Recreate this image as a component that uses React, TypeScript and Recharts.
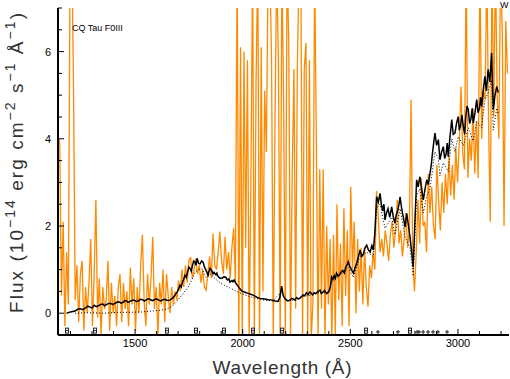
import { ComposedChart, Line, Scatter, XAxis, YAxis } from 'recharts';

// tick positions (minor every 100 A / 0.5 flux units, labels on the major ones)
const waveTicks = [1200, 1300, 1400, 1500, 1600, 1700, 1800, 1900, 2000, 2100, 2200, 2300, 2400, 2500, 2600, 2700, 2800, 2900, 3000, 3100, 3200];
const waveLabels = [1500, 2000, 2500, 3000];
const fluxTicks = [-0.5, 0, 0.5, 1, 1.5, 2, 2.5, 3, 3.5, 4, 4.5, 5, 5.5, 6, 6.5, 7];
const fluxLabels = [0, 2, 4, 6];

// IUE spectrum, orange (wavelength A, flux 1e-14)
const iue: [number, number][] = [
  [1146, 4.0], [1150, 3.9], [1158, 0.4], [1166, 2.1], [1174, -0.3], [1182, 1.4], [1190, 0.2], [1198, 8], [1206, 8.5], [1214, 5.2],
  [1222, 0.3], [1230, 1.1], [1238, -0.2], [1246, 0.9], [1254, 1.2], [1262, -0.4], [1270, 0.6], [1278, 0.0], [1286, 0.7], [1294, 1.7],
  [1302, -0.3], [1310, 0.9], [1318, 2.6], [1326, -0.1], [1334, 0.8], [1342, -0.5], [1350, 0.6], [1358, 0.1], [1366, 0.3], [1374, 1.2],
  [1382, -0.4], [1390, 0.7], [1398, 0.0], [1406, 0.4], [1414, -0.3], [1422, 0.6], [1430, 0.9], [1438, -0.2], [1446, 0.7], [1454, 0.1],
  [1462, 0.5], [1470, -0.3], [1478, 1.05], [1486, 0.2], [1494, 0.8], [1502, -0.4], [1510, 0.6], [1518, 0.0], [1526, 1.1], [1534, 1.8],
  [1542, 0.3], [1550, -0.3], [1558, 0.9], [1566, 0.2], [1574, 0.8], [1582, 1.75], [1590, 0.1], [1598, 0.6], [1606, -0.5], [1614, 0.7],
  [1622, 0.2], [1630, 1.0], [1638, -0.2], [1646, 0.9], [1654, 0.4], [1662, 0.0], [1670, 0.6], [1678, 0.2], [1686, 0.5], [1694, 0.3],
  [1702, 0.75], [1710, 0.5], [1718, 1.0], [1726, 0.6], [1734, 1.1], [1742, 0.7], [1750, 1.2], [1758, 1.29], [1766, 0.8], [1774, 1.0],
  [1782, 1.26], [1790, 0.9], [1798, 1.1], [1806, 0.7], [1814, 1.0], [1822, 0.6], [1830, 0.53], [1838, 0.9], [1846, 1.3], [1854, 0.8],
  [1862, 1.83], [1870, 1.1], [1878, 1.0], [1886, 1.4], [1894, 1.87], [1902, 1.2], [1910, 0.9], [1918, 1.75], [1926, 1.0], [1934, 1.4],
  [1942, 0.8], [1950, 1.52], [1958, 1.95], [1966, 0.7], [1974, 8], [1982, -0.6], [1990, 6.1], [1998, -0.6], [2006, 6.0], [2014, 1.5],
  [2022, 5.8], [2030, -0.6], [2038, 3.0], [2046, 8], [2054, -0.6], [2062, 5.3], [2070, 8], [2078, -0.6], [2086, 6.1], [2094, 0.5],
  [2102, 5.1], [2110, 3.7], [2118, 8], [2126, 8], [2134, 5.8], [2142, -0.6], [2150, 4.4], [2158, 8], [2166, 5.7], [2174, -0.6],
  [2182, 8], [2190, 4.9], [2198, -0.6], [2206, 8], [2214, 6.2], [2222, -0.6], [2230, 3.2], [2238, 5.6], [2246, 0.1], [2254, 5.7],
  [2262, 8], [2270, 8], [2278, -0.6], [2286, 5.6], [2294, 6.2], [2302, -0.5], [2310, 5.8], [2318, -0.6], [2326, 0.2], [2334, 8],
  [2342, 4.0], [2350, -0.6], [2358, 3.3], [2366, 0.1], [2374, 3.3], [2382, -0.6], [2390, 2.0], [2398, 0.2], [2406, 1.7], [2414, -0.6],
  [2422, 1.8], [2430, -0.5], [2438, 2.5], [2446, 0.3], [2454, 1.6], [2462, -0.3], [2470, 2.4], [2478, 0.4], [2486, 1.9], [2494, -0.3],
  [2502, 2.9], [2510, 1.0], [2518, 2.1], [2526, 0.0], [2534, 1.7], [2542, 0.5], [2550, 1.5], [2558, 0.2], [2566, 1.5], [2574, 0.6],
  [2582, 0.15], [2590, 1.1], [2598, 0.8], [2606, 1.4], [2614, 1.0], [2622, 2.8], [2630, 2.2], [2638, 1.4], [2646, 1.7], [2654, 1.3],
  [2662, 1.9], [2670, 1.6], [2678, 1.2], [2686, 1.8], [2694, 2.1], [2702, 1.5], [2710, 1.9], [2718, 2.6], [2726, 1.6], [2734, 1.9],
  [2742, 1.3], [2750, 1.7], [2758, 2.3], [2766, 1.5], [2774, 1.9], [2782, 4.9], [2790, 1.2], [2798, 0.5], [2806, 1.4], [2814, 2.6],
  [2822, 1.6], [2830, 3.1], [2838, 2.0], [2846, 2.1], [2854, 1.4], [2862, 3.2], [2870, 2.3], [2878, 2.9], [2886, 2.0], [2894, 1.7],
  [2902, 3.4], [2910, 2.6], [2918, 1.9], [2926, 3.0], [2934, 2.3], [2942, 3.2], [2950, 2.5], [2958, 3.6], [2966, 2.7], [2974, 3.4],
  [2982, 2.6], [2990, 3.8], [2998, 3.0], [3006, 3.9], [3014, 5.2], [3022, 3.7], [3030, 3.3], [3038, 8], [3046, 3.1], [3054, 4.0],
  [3062, 3.5], [3070, 4.7], [3078, 3.2], [3086, 4.4], [3094, 3.1], [3102, 8], [3110, 4.0], [3118, 5.1], [3126, 4.9], [3134, 8],
  [3142, 4.4], [3150, 2.1], [3158, 8], [3166, 4.5], [3174, 8], [3182, 5.0], [3190, 4.0], [3198, 8], [3206, 6.4], [3214, 2.0],
  [3222, 6.7], [3230, 5.5],
];

// smoothed spectrum, black solid
const smooth: [number, number][] = [
  [1182, 0.0], [1200, 0.03], [1221, 0.05], [1233, 0.09], [1245, 0.1], [1258, 0.08], [1270, 0.12], [1280, 0.16], [1291, 0.14], [1300, 0.12],
  [1310, 0.18], [1320, 0.15], [1330, 0.17], [1340, 0.2], [1350, 0.21], [1358, 0.17], [1365, 0.19], [1375, 0.22], [1384, 0.23], [1395, 0.2],
  [1405, 0.22], [1415, 0.25], [1425, 0.26], [1435, 0.23], [1445, 0.25], [1452, 0.29], [1460, 0.28], [1468, 0.25], [1476, 0.27], [1485, 0.29],
  [1495, 0.3], [1505, 0.27], [1515, 0.28], [1525, 0.32], [1535, 0.31], [1543, 0.28], [1550, 0.3], [1560, 0.33], [1569, 0.32], [1580, 0.29],
  [1590, 0.31], [1600, 0.33], [1610, 0.3], [1620, 0.28], [1630, 0.31], [1640, 0.32], [1650, 0.29], [1662, 0.3], [1675, 0.35], [1685, 0.41],
  [1697, 0.5], [1709, 0.64], [1715, 0.6], [1720, 0.72], [1726, 0.78], [1732, 0.87], [1738, 0.82], [1744, 0.95], [1750, 1.06], [1755, 1.03],
  [1761, 0.96], [1766, 1.08], [1772, 1.2], [1778, 1.17], [1783, 1.1], [1788, 1.26], [1795, 1.14], [1802, 1.13], [1809, 1.2], [1816, 1.17],
  [1823, 1.05], [1829, 0.99], [1834, 0.93], [1839, 0.87], [1843, 0.95], [1848, 1.03], [1853, 1.0], [1857, 0.97], [1862, 0.9], [1867, 0.94],
  [1876, 0.88], [1880, 0.92], [1885, 0.85], [1890, 0.82], [1895, 0.8], [1904, 0.8], [1913, 0.84], [1922, 0.82], [1926, 0.78], [1931, 0.76],
  [1936, 0.79], [1941, 0.71], [1950, 0.75], [1955, 0.72], [1960, 0.76], [1969, 0.68], [1978, 0.62], [1985, 0.57], [1992, 0.53], [2000, 0.5],
  [2011, 0.48], [2022, 0.46], [2034, 0.44], [2045, 0.42], [2057, 0.39], [2068, 0.36], [2080, 0.34], [2094, 0.33], [2108, 0.32], [2120, 0.31],
  [2136, 0.3], [2150, 0.28], [2164, 0.27], [2172, 0.35], [2181, 0.62], [2188, 0.4], [2200, 0.31], [2210, 0.28], [2220, 0.3], [2228, 0.34],
  [2235, 0.33], [2243, 0.3], [2250, 0.36], [2258, 0.33], [2265, 0.34], [2273, 0.38], [2281, 0.42], [2288, 0.4], [2296, 0.47], [2304, 0.43],
  [2312, 0.49], [2318, 0.46], [2325, 0.42], [2332, 0.47], [2340, 0.45], [2350, 0.5], [2359, 0.53], [2365, 0.45], [2372, 0.48], [2380, 0.52],
  [2390, 0.45], [2400, 0.5], [2407, 0.6], [2413, 0.83], [2419, 0.78], [2425, 0.86], [2430, 0.8], [2436, 0.92], [2443, 0.85], [2450, 0.88],
  [2458, 0.95], [2465, 0.98], [2472, 0.92], [2478, 1.05], [2484, 1.1], [2490, 1.18], [2495, 1.1], [2500, 1.05], [2507, 0.98], [2514, 0.92],
  [2522, 1.05], [2530, 1.15], [2538, 1.3], [2545, 1.45], [2553, 1.3], [2560, 1.35], [2568, 1.5], [2576, 1.56], [2584, 1.45], [2592, 1.4],
  [2600, 1.55], [2607, 1.45], [2614, 1.85], [2622, 2.67], [2630, 2.55], [2638, 2.75], [2644, 2.5], [2650, 2.35], [2656, 2.5], [2661, 2.14],
  [2668, 2.3], [2675, 2.4], [2683, 2.2], [2692, 2.44], [2700, 2.2], [2707, 2.06], [2713, 2.25], [2720, 2.35], [2726, 2.5], [2731, 2.67],
  [2737, 2.45], [2742, 2.3], [2748, 2.15], [2754, 1.98], [2762, 2.29], [2770, 2.0], [2777, 1.75], [2785, 1.4], [2792, 1.06], [2800, 2.1],
  [2808, 3.06], [2815, 2.9], [2823, 3.13], [2831, 2.85], [2839, 2.6], [2847, 2.85], [2855, 3.06], [2862, 2.95], [2870, 3.21], [2876, 3.4],
  [2880, 3.6], [2887, 3.9], [2893, 4.13], [2901, 3.85], [2909, 3.98], [2916, 3.52], [2924, 3.7], [2932, 3.82], [2938, 3.55], [2945, 3.65],
  [2950, 3.9], [2955, 3.59], [2962, 4.0], [2971, 4.44], [2978, 4.1], [2986, 4.13], [2993, 4.35], [3001, 4.51], [3006, 4.2], [3012, 4.3],
  [3018, 4.55], [3025, 4.28], [3031, 4.1], [3036, 4.5], [3042, 4.75], [3048, 4.67], [3054, 4.35], [3060, 4.45], [3066, 4.7], [3071, 4.36],
  [3079, 4.6], [3087, 4.9], [3093, 4.6], [3100, 4.7], [3105, 4.95], [3110, 4.74], [3117, 5.1], [3125, 5.43], [3132, 5.1], [3140, 5.59],
  [3148, 5.3], [3156, 5.97], [3164, 4.67], [3172, 5.0], [3180, 5.2], [3187, 5.06],
];

// model, black dotted
const model: [number, number][] = [
  [1221, 0.0], [1280, 0.01], [1360, 0.0], [1420, 0.02], [1480, 0.02], [1531, 0.03], [1580, 0.05], [1624, 0.07], [1650, 0.1], [1670, 0.15],
  [1690, 0.25], [1717, 0.41], [1747, 0.6], [1763, 0.76], [1780, 0.95], [1795, 1.0], [1810, 1.02], [1830, 0.82], [1848, 0.9], [1870, 0.8],
  [1900, 0.68], [1940, 0.58], [1980, 0.48], [2020, 0.4], [2060, 0.34], [2100, 0.3], [2140, 0.28], [2181, 0.5], [2200, 0.3], [2240, 0.3],
  [2280, 0.38], [2320, 0.42], [2360, 0.48], [2400, 0.45], [2413, 0.72], [2440, 0.82], [2490, 1.05], [2514, 0.82], [2545, 1.3], [2576, 1.4],
  [2607, 1.3], [2622, 2.4], [2638, 2.5], [2661, 1.95], [2692, 2.2], [2707, 1.8], [2731, 2.4], [2754, 1.75], [2777, 1.5], [2792, 0.85],
  [2808, 2.7], [2823, 2.85], [2839, 2.3], [2855, 2.7], [2870, 2.85], [2893, 3.7], [2909, 3.55], [2916, 3.15], [2932, 3.45], [2955, 3.25],
  [2971, 4.0], [2986, 3.7], [3001, 4.05], [3025, 3.85], [3048, 4.25], [3071, 3.95], [3087, 4.4], [3110, 4.25], [3125, 4.9], [3140, 5.05],
  [3156, 5.35], [3164, 4.2], [3180, 4.7], [3187, 4.55],
];

// quality flags along the bottom
const flagBoxes = [1184, 1314, 1648, 1783, 1913, 2048, 2183, 2573, 2777];
const flagPlus = [2628, 2721, 2810, 2819, 2838, 2861, 2884, 2907, 2949];

const rows = (pts: [number, number][]) => pts.map(([w, f]) => ({ w, f }));

const FONT = '"Liberation Sans", Arial, Helvetica, sans-serif';

function BottomTick({ x, y, payload }: any) {
  const major = waveLabels.includes(payload.value);
  return (
    <g>
      <line x1={x} x2={x} y1={y} y2={y - (major ? 6 : 4)} stroke="#000" />
      {major && (
        <text x={x} y={y + 12} textAnchor="middle" fontSize={11} fontFamily={FONT} fill="#000">
          {payload.value}
        </text>
      )}
    </g>
  );
}

function TopTick({ x, y, payload }: any) {
  const major = waveLabels.includes(payload.value);
  return <line x1={x} x2={x} y1={y} y2={y + (major ? 6 : 4)} stroke="#000" />;
}

function LeftTick({ x, y, payload }: any) {
  const major = fluxLabels.includes(payload.value);
  return (
    <g>
      <line x1={x} x2={x + (major ? 6 : 4)} y1={y} y2={y} stroke="#000" />
      {major && (
        <text x={x - 7} y={y + 4} textAnchor="end" fontSize={11} fontFamily={FONT} fill="#000">
          {payload.value}
        </text>
      )}
    </g>
  );
}

function RightTick({ x, y, payload }: any) {
  const major = fluxLabels.includes(payload.value);
  return <line x1={x} x2={x - (major ? 6 : 4)} y1={y} y2={y} stroke="#000" />;
}

function FlagBox({ cx, cy }: any) {
  return (
    <g stroke="#222" strokeWidth={1} fill="none">
      <rect x={cx - 1.5} y={cy - 2.5} width={3} height={5} />
      <line x1={cx - 1.5} x2={cx + 1.5} y1={cy} y2={cy} />
    </g>
  );
}

function FlagPlus({ cx, cy }: any) {
  return (
    <g stroke="#222" strokeWidth={1}>
      <line x1={cx - 2} x2={cx + 2} y1={cy} y2={cy} />
      <line x1={cx} x2={cx} y1={cy - 2} y2={cy + 2} />
    </g>
  );
}

const frame = { stroke: '#000', strokeWidth: 2 };

export default function App() {
  return (
    <div style={{ position: 'absolute', left: 0, top: 0, width: 510, height: 379, background: '#fff' }}>
      <ComposedChart width={510} height={379} margin={{ top: 8, right: 1, bottom: 0, left: 0 }}>
        <XAxis
          xAxisId="b"
          dataKey="w"
          type="number"
          domain={[1142, 3237]}
          allowDataOverflow
          ticks={waveTicks}
          interval={0}
          height={44}
          axisLine={frame}
          tickLine={false}
          tickSize={0}
          tickMargin={0}
          tick={<BottomTick />}
        />
        <XAxis
          xAxisId="t"
          orientation="top"
          dataKey="w"
          type="number"
          domain={[1142, 3237]}
          allowDataOverflow
          ticks={waveTicks}
          interval={0}
          height={0}
          axisLine={frame}
          tickLine={false}
          tickSize={0}
          tickMargin={0}
          tick={<TopTick />}
        />
        <YAxis
          yAxisId="l"
          type="number"
          domain={[-0.5, 7]}
          allowDataOverflow
          ticks={fluxTicks}
          interval={0}
          width={58}
          axisLine={frame}
          tickLine={false}
          tickSize={0}
          tickMargin={0}
          tick={<LeftTick />}
        />
        <YAxis
          yAxisId="r"
          orientation="right"
          type="number"
          domain={[-0.5, 7]}
          allowDataOverflow
          ticks={fluxTicks}
          interval={0}
          width={0}
          axisLine={frame}
          tickLine={false}
          tickSize={0}
          tickMargin={0}
          tick={<RightTick />}
        />
        <Line xAxisId="b" yAxisId="l" data={rows(iue)} dataKey="f" type="linear" stroke="#ff8a00" strokeWidth={1.3} dot={false} isAnimationActive={false} />
        <Line xAxisId="b" yAxisId="l" data={rows(smooth)} dataKey="f" type="linear" stroke="#000" strokeWidth={1.5} dot={false} isAnimationActive={false} />
        <Line xAxisId="b" yAxisId="l" data={rows(model)} dataKey="f" type="linear" stroke="#000" strokeWidth={1} strokeDasharray="1 2" dot={false} isAnimationActive={false} />
        <Scatter xAxisId="b" yAxisId="l" data={flagBoxes.map((w) => ({ w, f: -0.4 }))} dataKey="f" shape={<FlagBox />} isAnimationActive={false} />
        <Scatter xAxisId="b" yAxisId="l" data={flagPlus.map((w) => ({ w, f: -0.43 }))} dataKey="f" shape={<FlagPlus />} isAnimationActive={false} />
      </ComposedChart>
      <svg width={510} height={379} style={{ position: 'absolute', left: 0, top: 0, pointerEvents: 'none' }}>
        <text x={72} y={31} fontSize={9} fontFamily={FONT} fill="#000">CQ Tau F0III</text>
        <text x={500} y={8} fontSize={9} fontFamily={FONT} fill="#000">W</text>
        <text x={282} y={374} textAnchor="middle" fontSize={19} fontFamily={FONT} fill="#333" textLength={139} lengthAdjust="spacing">
          Wavelength (Å)
        </text>
        <text
          transform="translate(23,163) rotate(-90)"
          textAnchor="middle"
          fontSize={19}
          fontFamily={FONT}
          fill="#333"
          textLength={300}
          lengthAdjust="spacing"
        >
          Flux (10<tspan dy={-8} fontSize={14}>−14</tspan>
          <tspan dy={8}> erg cm</tspan>
          <tspan dy={-8} fontSize={14}>−2</tspan>
          <tspan dy={8}> s</tspan>
          <tspan dy={-8} fontSize={14}>−1</tspan>
          <tspan dy={8}> Å</tspan>
          <tspan dy={-8} fontSize={14}>−1</tspan>
          <tspan dy={8}>)</tspan>
        </text>
      </svg>
    </div>
  );
}
